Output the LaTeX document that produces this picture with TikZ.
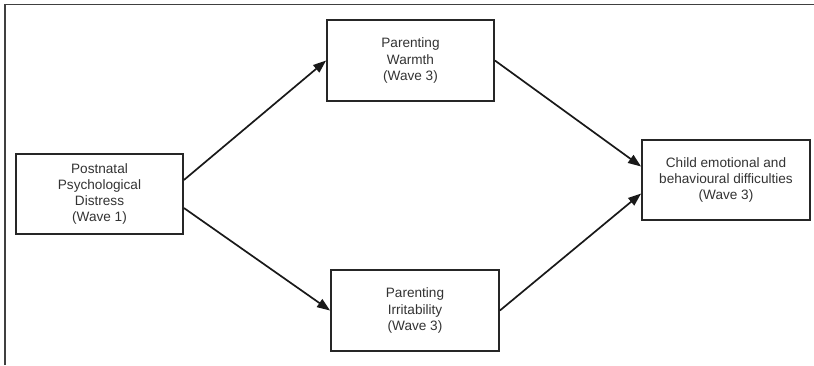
\documentclass[tikz,border=0pt]{standalone}
\usepackage{fontspec}
\setmainfont{Liberation Sans}
\usetikzlibrary{arrows.meta}
\begin{document}
\begin{tikzpicture}[x=1pt,y=-1pt,
  box/.style={draw=black!85, line width=1.8pt, fill=white, minimum width=167pt, minimum height=80pt,
    align=center, inner sep=0pt, font=\fontsize{13.6}{16.3}\selectfont, text=black!80},
  conn/.style={draw=black!90, line width=1.7pt, -{Triangle[length=13pt,width=9.5pt]}}]
\useasboundingbox (0,0) rectangle (814,365);
\draw[black!75, line width=1.8pt] (5,365) -- (5,4.5) -- (814,4.5);
\node[box] (post) at (99.5,194) {Postnatal\\Psychological\\Distress\\(Wave 1)};
\node[box, minimum height=81pt] (warm) at (410.5,60.5) {Parenting\\Warmth\\(Wave 3)};
\node[box, minimum width=168pt, minimum height=81pt] (irr) at (415,310.5) {Parenting\\Irritability\\(Wave 3)};
\node[box, minimum width=168pt] (child) at (726,180) {Child emotional and\\behavioural difficulties\\(Wave 3)};
\draw[conn] ([yshift=14pt]post.east) -- (warm.west);
\draw[conn] ([yshift=-14pt]post.east) -- (irr.west);
\draw[conn] (warm.east) -- ([yshift=13.5pt]child.west);
\draw[conn] (irr.east) -- ([yshift=-13.5pt]child.west);
\end{tikzpicture}
\end{document}
